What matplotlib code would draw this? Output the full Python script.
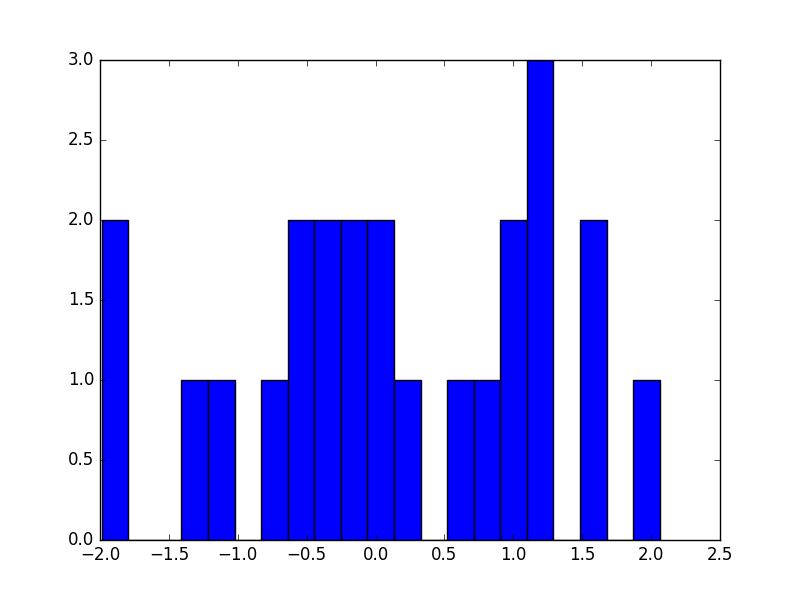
import numpy as np
import matplotlib
matplotlib.use("Agg")
import matplotlib.pyplot as plt

plt.style.use("classic")

# histogram: 21 equal bins
bin_start = -1.988
bin_end = 2.062
counts = [2, 0, 0, 1, 1, 0, 1, 2, 2, 2, 2, 1, 0, 1, 1, 2, 3, 0, 2, 0, 1]

edges = np.linspace(bin_start, bin_end, len(counts) + 1)
centers = (edges[:-1] + edges[1:]) / 2

fig = plt.figure(figsize=(8, 6), dpi=100)
ax = fig.add_subplot(111)
ax.hist(centers, bins=edges, weights=counts, color="#0000ff", edgecolor="black")
ax.set_xlim(-2.0, 2.5)
ax.set_ylim(0, 3.0)

fig.savefig("out.png", dpi=100)
